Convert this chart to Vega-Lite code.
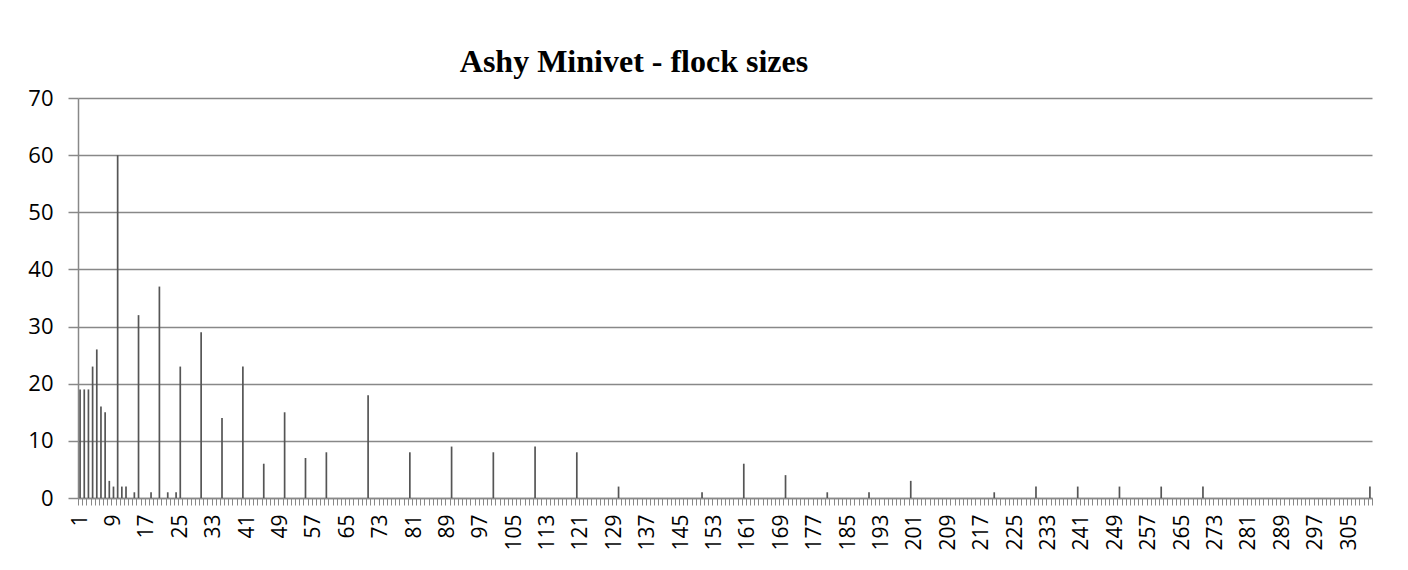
{
"$schema":"https://vega.github.io/schema/vega-lite/v6.json",
"width":1294,"height":400,
"autosize":{"type":"none"},
"padding":{"left":78,"top":98,"right":36,"bottom":72},
"background":"white",
"title":{"text":"Ashy Minivet - flock sizes","font":"Liberation Serif","fontSize":32,"fontWeight":"bold","color":"black","anchor":"middle","frame":"group","dx":-91,"offset":-17,"baseline":"alphabetic"},
"config":{"view":{"stroke":null}},
"data":{"values":[
{"s":1,"n":19},{"s":2,"n":19},{"s":3,"n":19},{"s":4,"n":23},{"s":5,"n":26},{"s":6,"n":16},{"s":7,"n":15},{"s":8,"n":3},{"s":9,"n":2},{"s":10,"n":60},
{"s":11,"n":2},{"s":12,"n":2},{"s":13,"n":0},{"s":14,"n":1},{"s":15,"n":32},{"s":16,"n":0},{"s":17,"n":0},{"s":18,"n":1},{"s":19,"n":0},{"s":20,"n":37},
{"s":21,"n":0},{"s":22,"n":1},{"s":23,"n":0},{"s":24,"n":1},{"s":25,"n":23},{"s":26,"n":0},{"s":27,"n":0},{"s":28,"n":0},{"s":29,"n":0},{"s":30,"n":29},
{"s":31,"n":0},{"s":32,"n":0},{"s":33,"n":0},{"s":34,"n":0},{"s":35,"n":14},{"s":36,"n":0},{"s":37,"n":0},{"s":38,"n":0},{"s":39,"n":0},{"s":40,"n":23},
{"s":41,"n":0},{"s":42,"n":0},{"s":43,"n":0},{"s":44,"n":0},{"s":45,"n":6},{"s":46,"n":0},{"s":47,"n":0},{"s":48,"n":0},{"s":49,"n":0},{"s":50,"n":15},
{"s":51,"n":0},{"s":52,"n":0},{"s":53,"n":0},{"s":54,"n":0},{"s":55,"n":7},{"s":56,"n":0},{"s":57,"n":0},{"s":58,"n":0},{"s":59,"n":0},{"s":60,"n":8},
{"s":61,"n":0},{"s":62,"n":0},{"s":63,"n":0},{"s":64,"n":0},{"s":65,"n":0},{"s":66,"n":0},{"s":67,"n":0},{"s":68,"n":0},{"s":69,"n":0},{"s":70,"n":18},
{"s":71,"n":0},{"s":72,"n":0},{"s":73,"n":0},{"s":74,"n":0},{"s":75,"n":0},{"s":76,"n":0},{"s":77,"n":0},{"s":78,"n":0},{"s":79,"n":0},{"s":80,"n":8},
{"s":81,"n":0},{"s":82,"n":0},{"s":83,"n":0},{"s":84,"n":0},{"s":85,"n":0},{"s":86,"n":0},{"s":87,"n":0},{"s":88,"n":0},{"s":89,"n":0},{"s":90,"n":9},
{"s":91,"n":0},{"s":92,"n":0},{"s":93,"n":0},{"s":94,"n":0},{"s":95,"n":0},{"s":96,"n":0},{"s":97,"n":0},{"s":98,"n":0},{"s":99,"n":0},{"s":100,"n":8},
{"s":101,"n":0},{"s":102,"n":0},{"s":103,"n":0},{"s":104,"n":0},{"s":105,"n":0},{"s":106,"n":0},{"s":107,"n":0},{"s":108,"n":0},{"s":109,"n":0},{"s":110,"n":9},
{"s":111,"n":0},{"s":112,"n":0},{"s":113,"n":0},{"s":114,"n":0},{"s":115,"n":0},{"s":116,"n":0},{"s":117,"n":0},{"s":118,"n":0},{"s":119,"n":0},{"s":120,"n":8},
{"s":121,"n":0},{"s":122,"n":0},{"s":123,"n":0},{"s":124,"n":0},{"s":125,"n":0},{"s":126,"n":0},{"s":127,"n":0},{"s":128,"n":0},{"s":129,"n":0},{"s":130,"n":2},
{"s":131,"n":0},{"s":132,"n":0},{"s":133,"n":0},{"s":134,"n":0},{"s":135,"n":0},{"s":136,"n":0},{"s":137,"n":0},{"s":138,"n":0},{"s":139,"n":0},{"s":140,"n":0},
{"s":141,"n":0},{"s":142,"n":0},{"s":143,"n":0},{"s":144,"n":0},{"s":145,"n":0},{"s":146,"n":0},{"s":147,"n":0},{"s":148,"n":0},{"s":149,"n":0},{"s":150,"n":1},
{"s":151,"n":0},{"s":152,"n":0},{"s":153,"n":0},{"s":154,"n":0},{"s":155,"n":0},{"s":156,"n":0},{"s":157,"n":0},{"s":158,"n":0},{"s":159,"n":0},{"s":160,"n":6},
{"s":161,"n":0},{"s":162,"n":0},{"s":163,"n":0},{"s":164,"n":0},{"s":165,"n":0},{"s":166,"n":0},{"s":167,"n":0},{"s":168,"n":0},{"s":169,"n":0},{"s":170,"n":4},
{"s":171,"n":0},{"s":172,"n":0},{"s":173,"n":0},{"s":174,"n":0},{"s":175,"n":0},{"s":176,"n":0},{"s":177,"n":0},{"s":178,"n":0},{"s":179,"n":0},{"s":180,"n":1},
{"s":181,"n":0},{"s":182,"n":0},{"s":183,"n":0},{"s":184,"n":0},{"s":185,"n":0},{"s":186,"n":0},{"s":187,"n":0},{"s":188,"n":0},{"s":189,"n":0},{"s":190,"n":1},
{"s":191,"n":0},{"s":192,"n":0},{"s":193,"n":0},{"s":194,"n":0},{"s":195,"n":0},{"s":196,"n":0},{"s":197,"n":0},{"s":198,"n":0},{"s":199,"n":0},{"s":200,"n":3},
{"s":201,"n":0},{"s":202,"n":0},{"s":203,"n":0},{"s":204,"n":0},{"s":205,"n":0},{"s":206,"n":0},{"s":207,"n":0},{"s":208,"n":0},{"s":209,"n":0},{"s":210,"n":0},
{"s":211,"n":0},{"s":212,"n":0},{"s":213,"n":0},{"s":214,"n":0},{"s":215,"n":0},{"s":216,"n":0},{"s":217,"n":0},{"s":218,"n":0},{"s":219,"n":0},{"s":220,"n":1},
{"s":221,"n":0},{"s":222,"n":0},{"s":223,"n":0},{"s":224,"n":0},{"s":225,"n":0},{"s":226,"n":0},{"s":227,"n":0},{"s":228,"n":0},{"s":229,"n":0},{"s":230,"n":2},
{"s":231,"n":0},{"s":232,"n":0},{"s":233,"n":0},{"s":234,"n":0},{"s":235,"n":0},{"s":236,"n":0},{"s":237,"n":0},{"s":238,"n":0},{"s":239,"n":0},{"s":240,"n":2},
{"s":241,"n":0},{"s":242,"n":0},{"s":243,"n":0},{"s":244,"n":0},{"s":245,"n":0},{"s":246,"n":0},{"s":247,"n":0},{"s":248,"n":0},{"s":249,"n":0},{"s":250,"n":2},
{"s":251,"n":0},{"s":252,"n":0},{"s":253,"n":0},{"s":254,"n":0},{"s":255,"n":0},{"s":256,"n":0},{"s":257,"n":0},{"s":258,"n":0},{"s":259,"n":0},{"s":260,"n":2},
{"s":261,"n":0},{"s":262,"n":0},{"s":263,"n":0},{"s":264,"n":0},{"s":265,"n":0},{"s":266,"n":0},{"s":267,"n":0},{"s":268,"n":0},{"s":269,"n":0},{"s":270,"n":2},
{"s":271,"n":0},{"s":272,"n":0},{"s":273,"n":0},{"s":274,"n":0},{"s":275,"n":0},{"s":276,"n":0},{"s":277,"n":0},{"s":278,"n":0},{"s":279,"n":0},{"s":280,"n":0},
{"s":281,"n":0},{"s":282,"n":0},{"s":283,"n":0},{"s":284,"n":0},{"s":285,"n":0},{"s":286,"n":0},{"s":287,"n":0},{"s":288,"n":0},{"s":289,"n":0},{"s":290,"n":0},
{"s":291,"n":0},{"s":292,"n":0},{"s":293,"n":0},{"s":294,"n":0},{"s":295,"n":0},{"s":296,"n":0},{"s":297,"n":0},{"s":298,"n":0},{"s":299,"n":0},{"s":300,"n":0},
{"s":301,"n":0},{"s":302,"n":0},{"s":303,"n":0},{"s":304,"n":0},{"s":305,"n":0},{"s":306,"n":0},{"s":307,"n":0},{"s":308,"n":0},{"s":309,"n":0},{"s":310,"n":2}
]},
"mark":{"type":"bar","size":1.7,"color":"#555555"},
"encoding":{
"x":{"field":"s","type":"ordinal","title":null,"scale":{"paddingInner":0,"paddingOuter":0},
"axis":{"tickBand":"extent","labelExpr":"(datum.value - 1) % 8 == 0 ? datum.label : ''","labelAngle":-90,"labelFont":"Open Sans","labelFontSize":21,"labelColor":"black","labelPadding":9,"tickSize":7,"tickColor":"#888888","tickWidth":1,"domainColor":"#888888","domainWidth":1.5,"grid":false,"labelOverlap":false,"labelBound":false,"labelFlush":false}},
"y":{"field":"n","type":"quantitative","title":null,"scale":{"domain":[0,70],"nice":false},
"axis":{"values":[0,10,20,30,40,50,60,70],"grid":true,"gridColor":"#888888","gridWidth":1.5,"domainColor":"#888888","domainWidth":1.5,"tickColor":"#888888","tickSize":10,"tickWidth":1.5,"labelFont":"Open Sans","labelFontSize":22,"labelColor":"black","labelPadding":15}}
}
}
